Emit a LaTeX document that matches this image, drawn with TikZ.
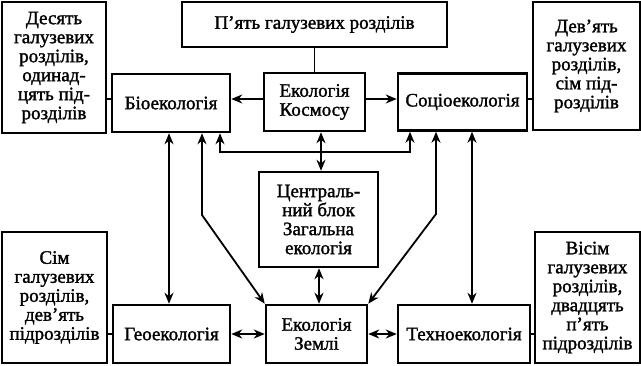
\documentclass[tikz,border=0pt]{standalone}
\usepackage{fontspec}
\setmainfont{Liberation Serif}[BoldFont=Liberation Serif, BoldFeatures={FakeBold=1.5}]
\usetikzlibrary{arrows.meta}
\begin{document}
\begin{tikzpicture}[x=1pt,y=-1pt,
  box/.style={draw, line width=2.5pt, inner sep=0pt, align=center, font=\bfseries\fontsize{19}{19}\selectfont},
  con/.style={line width=1.8pt},
  tipst/.tip={Stealth[length=11pt,width=9pt,inset=3.5pt]},
  arr/.style={con,-tipst},
  darr/.style={con,tipst-tipst}]
\useasboundingbox (0,0) rectangle (641,365);
% boxes
\node[box, minimum width=265pt, minimum height=45pt] (top) at (314.5,24.5) {П’ять галузевих розділів};
\node[box, minimum width=104pt, minimum height=131pt] (lt) at (54,67.5) {Десять\\галузевих\\розділів,\\одинад-\\цять під-\\розділів};
\node[box, minimum width=118pt, minimum height=58pt] (bio) at (171,103) {Біоекологія};
\node[box, minimum width=101pt, minimum height=58pt] (kos) at (314.5,102) {Екологія\\Космосу};
\node[box, minimum width=129pt, minimum height=57pt] (soc) at (462.5,102) {Соціоекологія};
\node[box, minimum width=107pt, minimum height=128pt] (rt) at (586.5,66) {Дев’ять\\галузевих\\розділів,\\сім під-\\розділів};
\node[box, minimum width=119pt, minimum height=95pt] (cen) at (318.5,219.5) {Централь-\\ний блок\\Загальна\\екологія};
\node[box, minimum width=101pt, minimum height=58pt] (zem) at (316.5,334) {Екологія\\Землі};
\node[box, minimum width=117pt, minimum height=58pt] (geo) at (171.5,334) {Геоекологія};
\node[box, minimum width=132pt, minimum height=58pt] (tech) at (464,334) {Техноекологія};
\node[box, minimum width=105pt, minimum height=131pt] (lb) at (54.5,297.5) {Сім\\галузевих\\розділів,\\дев’ять\\підрозділів};
\node[box, minimum width=105pt, minimum height=131pt] (rb) at (587.5,297.5) {Вісім\\галузевих\\розділів,\\двадцять\\п’ять\\підрозділів};
% helper coordinates
\coordinate (x169) at (169,0);
\coordinate (x202) at (202,0);
\coordinate (x220) at (220,0);
\coordinate (x321) at (321,0);
\coordinate (x319) at (319,0);
\coordinate (x410) at (410,0);
\coordinate (x436) at (436,0);
\coordinate (x472) at (472,0);
\coordinate (y99) at (0,99);
\coordinate (bl) at (202,215);
\coordinate (br) at (436,214);
\coordinate (bus) at (410,152);
% connectors
\draw[con] (top.south) -- (kos.north);
\draw[arr] (kos.west |- y99) -- (bio.east |- y99);
\draw[arr] (kos.east |- y99) -- (soc.west |- y99);
\draw[con] (lt.east |- y99) -- (bio.west |- y99);
\draw[con] (soc.east |- y99) -- (rt.west |- y99);
\draw[darr] (kos.south -| x321) -- (cen.north -| x321);
\draw[darr] (bio.south -| x220) |- (bus) -- (soc.south -| x410);
\draw[darr] (bio.south -| x169) -- (geo.north -| x169);
\draw[darr] (bio.south -| x202) -- (bl) -- (zem.north west);
\draw[darr] (soc.south -| x436) -- (br) -- (zem.north east);
\draw[darr] (soc.south -| x472) -- (tech.north -| x472);
\draw[darr] (cen.south -| x319) -- (zem.north -| x319);
\draw[darr] (geo.east) -- (zem.west);
\draw[darr] (zem.east) -- (tech.west);
\draw[con] (lb.east |- geo.east) -- (geo.west);
\draw[con] (rb.west |- tech.west) -- (tech.east);
\end{tikzpicture}
\end{document}
